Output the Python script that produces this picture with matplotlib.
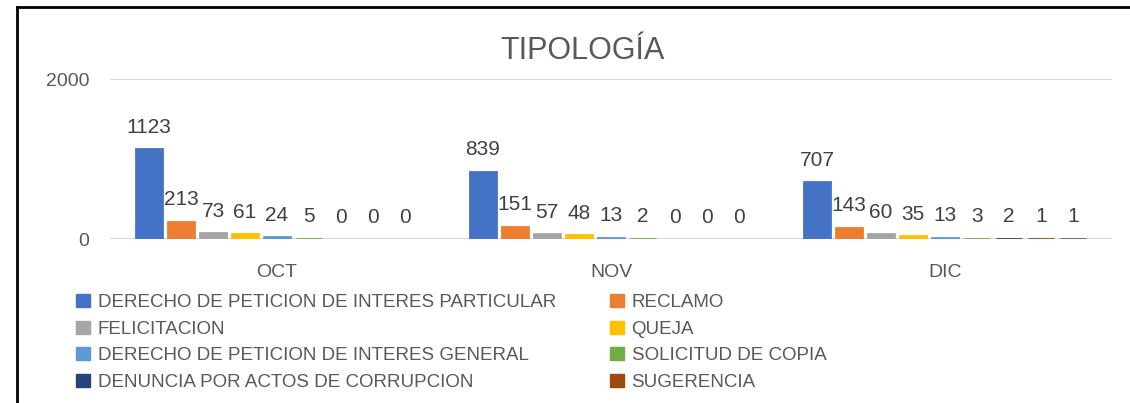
import numpy as np
import matplotlib.pyplot as plt
from matplotlib.patches import Patch
from matplotlib.lines import Line2D

plt.rcParams['font.family'] = ['Liberation Sans', 'DejaVu Sans']

months = ['OCT', 'NOV', 'DIC']
series = [
    'DERECHO DE PETICION DE INTERES PARTICULAR',
    'RECLAMO',
    'FELICITACION',
    'QUEJA',
    'DERECHO DE PETICION DE INTERES GENERAL',
    'SOLICITUD DE COPIA',
    'DENUNCIA POR ACTOS DE CORRUPCION',
    'SUGERENCIA',
    'OTROS',
]
oct_vals = [1123, 213, 73, 61, 24, 5, 0, 0, 0]
nov_vals = [839, 151, 57, 48, 13, 2, 0, 0, 0]
dic_vals = [707, 143, 60, 35, 13, 3, 2, 1, 1]
colors = ['#4472C4', '#ED7D31', '#A5A5A5', '#FFC000', '#5B9BD5',
          '#70AD47', '#264478', '#9E480E', '#636363']

values = np.array([oct_vals, nov_vals, dic_vals]).T  # series x month
txt = '#595959'

fig = plt.figure(figsize=(11.3, 4.03), dpi=100)
ax = fig.add_axes([110/1130, 1-239/403, 1002/1130, 160/403])

x = np.arange(len(months))
pitch = 0.0958
width = 0.075
for i, name in enumerate(series):
    pos = x + (i - 4) * pitch
    # thin edge so the very small bars stay visible, like Excel does
    lw = [2.0 if v > 0 else 0 for v in values[i]]
    ax.bar(pos, values[i], width, color=colors[i], edgecolor=colors[i],
           linewidth=lw, label=name, zorder=3)
    for px, v in zip(pos, values[i]):
        ax.annotate(str(v), (px, v), xytext=(0, 9), textcoords='offset points',
                    ha='center', va='bottom', fontsize=15, color='#404040')

ax.set_xlim(-0.5, 2.5)
ax.set_ylim(0, 2000)
ax.set_yticks([0, 2000])
ax.set_xticks(x)
ax.set_xticklabels(months)
ax.tick_params(axis='both', length=0, labelsize=14, colors=txt)
ax.tick_params(axis='y', pad=15)
ax.tick_params(axis='x', pad=18)
ax.grid(axis='y', color='#D9D9D9', linewidth=1.5, zorder=0)
for s in ax.spines.values():
    s.set_visible(False)

fig.text(583/1130, 1-51/403, 'TIPOLOGÍA', ha='center', va='center',
         fontsize=22, color=txt)

handles = [Patch(color=c) for c in colors]
for col, xa in ((0, 76/1130), (1, 610/1130)):
    idx = [col, col + 2, col + 4, col + 6]
    fig.legend([handles[k] for k in idx], [series[k] for k in idx],
               loc='upper left', bbox_to_anchor=(xa, 1-294/403),
               frameon=False, fontsize=13.5, labelcolor=txt,
               handlelength=0.75, handleheight=0.7, handletextpad=0.4,
               labelspacing=0.5, borderpad=0, borderaxespad=0)

# chart frame
fig.add_artist(Line2D([17/1130, 17/1130], [-0.1, 1-7/403], color='black',
                      linewidth=2, transform=fig.transFigure))
fig.add_artist(Line2D([17/1130, 1.1], [1-7/403, 1-7/403], color='black',
                      linewidth=2, transform=fig.transFigure))

fig.savefig('out.png', dpi=100)
